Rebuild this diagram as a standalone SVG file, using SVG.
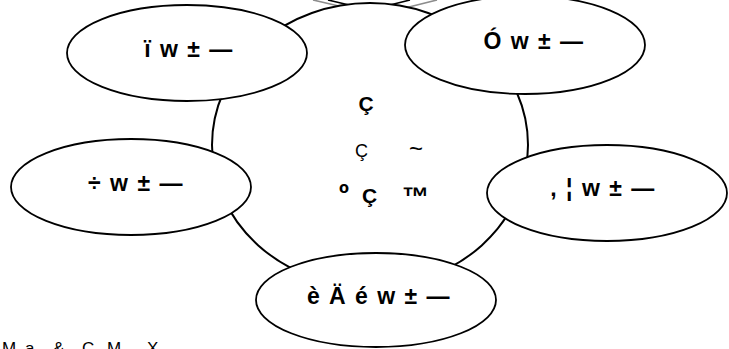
<svg xmlns="http://www.w3.org/2000/svg" width="729" height="349" viewBox="0 0 729 349">
<style>
.node{fill:#fff;stroke:#000;stroke-width:1.8}
.hub{fill:#fff;stroke:#000;stroke-width:2}
.lbl{font-family:"Liberation Sans",Arial,sans-serif;font-size:23px;font-weight:bold;letter-spacing:1.5px;fill:#000;text-anchor:middle}
.ctr{font-family:"Liberation Sans",Arial,sans-serif;fill:#000}
.cap{font-family:"Liberation Sans",Arial,sans-serif;font-size:17px;fill:#000}
</style>
<rect width="729" height="349" fill="#fff"/>
<g id="connectors">
<polyline points="313,0 377,15 437,0" fill="none" stroke="#8c8c8c" stroke-width="1.6"/>
<polyline points="328,0 370,10 410,0" fill="none" stroke="#000" stroke-width="1.6"/>
</g>
<g id="hub">
<ellipse class="hub" cx="370" cy="145" rx="158" ry="142"/>
<text class="ctr" x="366" y="111" font-size="21" font-weight="bold" text-anchor="middle">Ç</text>
<text class="ctr" y="157" font-size="18"><tspan x="355">Ç </tspan><tspan x="409" font-size="24">~</tspan></text>
<text class="ctr" y="203" font-size="21" font-weight="bold"><tspan x="339" font-size="27">º </tspan><tspan x="362">Ç </tspan><tspan x="402" y="206" font-size="27">™</tspan></text>
</g>
<g id="node-top-left">
<ellipse class="node" cx="187" cy="53" rx="120" ry="48"/>
<text class="lbl" x="189" y="57">ï w ± —</text>
</g>
<g id="node-top-right">
<ellipse class="node" cx="525" cy="45" rx="120" ry="49"/>
<text class="lbl" x="534" y="49">Ó w ± —</text>
</g>
<g id="node-left">
<ellipse class="node" cx="131" cy="187" rx="120" ry="48"/>
<text class="lbl" x="136" y="191">÷ w ± —</text>
</g>
<g id="node-right">
<ellipse class="node" cx="607" cy="193" rx="120" ry="48"/>
<text class="lbl" x="603" y="196">, ¦ w ± —</text>
</g>
<g id="node-bottom">
<ellipse class="node" cx="376" cy="300" rx="120" ry="47"/>
<text class="lbl" x="379" y="304">è Ä é w ± —</text>
</g>
<text class="cap" x="2 16 25 33 53 65 82 95 107 121 147" y="354">M a &amp; C M X</text>
</svg>
